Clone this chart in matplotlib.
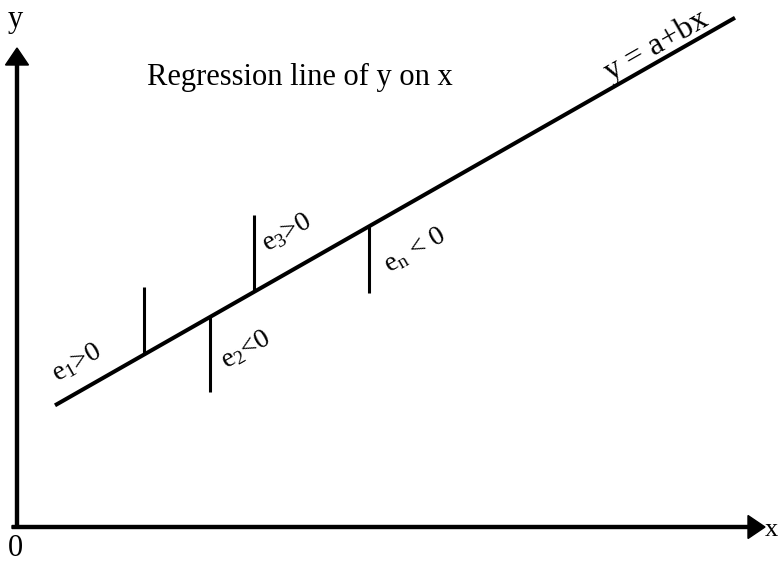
import numpy as np
import matplotlib
matplotlib.use("Agg")
import matplotlib.pyplot as plt

plt.rcParams["font.family"] = ["Liberation Serif", "DejaVu Serif"]
plt.rcParams["mathtext.fontset"] = "custom"
plt.rcParams["mathtext.rm"] = "Liberation Serif"
plt.rcParams["mathtext.it"] = "Liberation Serif"
plt.rcParams["mathtext.default"] = "regular"

# regression line y = a + b x
intercept = 10.0
slope = 0.57
line_x = [3.8, 71.8]

# observed points and their residual labels
obs_x = [12.7, 19.3, 23.7, 35.2]
obs_y = [24.0, 13.5, 31.2, 23.4]
resid_labels = ["$e_1$>0", "$e_2$<0", "$e_3$>0", "$e_n$ < 0"]

fig = plt.figure(figsize=(7.79, 5.62), dpi=100)
ax = fig.add_axes([0, 0, 1, 1])
ax.set_xlim(-1.7, 76.2)
ax.set_ylim(-3.5, 52.7)
ax.axis("off")

# axes with arrow heads
ax.arrow(0, -0.1, 0, 48.0, width=0.3, head_width=2.3, head_length=1.7,
         length_includes_head=True, color="black")
ax.arrow(-0.5, 0, 75.3, 0, width=0.3, head_width=2.3, head_length=1.7,
         length_includes_head=True, color="black")

lx = np.array(line_x)
ax.plot(lx, intercept + slope * lx, color="black", lw=2.9, solid_capstyle="butt")

for xo, yo in zip(obs_x, obs_y):
    yl = intercept + slope * xo
    ax.plot([xo, xo], [yo, yl], color="black", lw=2.2, solid_capstyle="butt")

angle = np.degrees(np.arctan(slope))
label_pos = [(6.0, 16.4), (22.9, 17.7), (27.0, 29.4), (39.8, 27.7)]
for (tx, ty), lab in zip(label_pos, resid_labels):
    ax.text(tx, ty, lab, fontsize=20, rotation=angle, rotation_mode="anchor",
            ha="center", va="center")

ax.text(63.9, 48.1, "y = a+bx", fontsize=23, rotation=angle,
        rotation_mode="anchor", ha="center", va="center")
ax.text(28.3, 45.0, "Regression line of y on x", fontsize=22,
        ha="center", va="center")

ax.text(-0.2, 50.7, "y", fontsize=22, ha="center", va="center")
ax.text(74.8, -0.3, "x", fontsize=19, ha="left", va="center")
ax.text(-0.2, -2.1, "0", fontsize=22, ha="center", va="center")

fig.savefig("out.png", dpi=100)
